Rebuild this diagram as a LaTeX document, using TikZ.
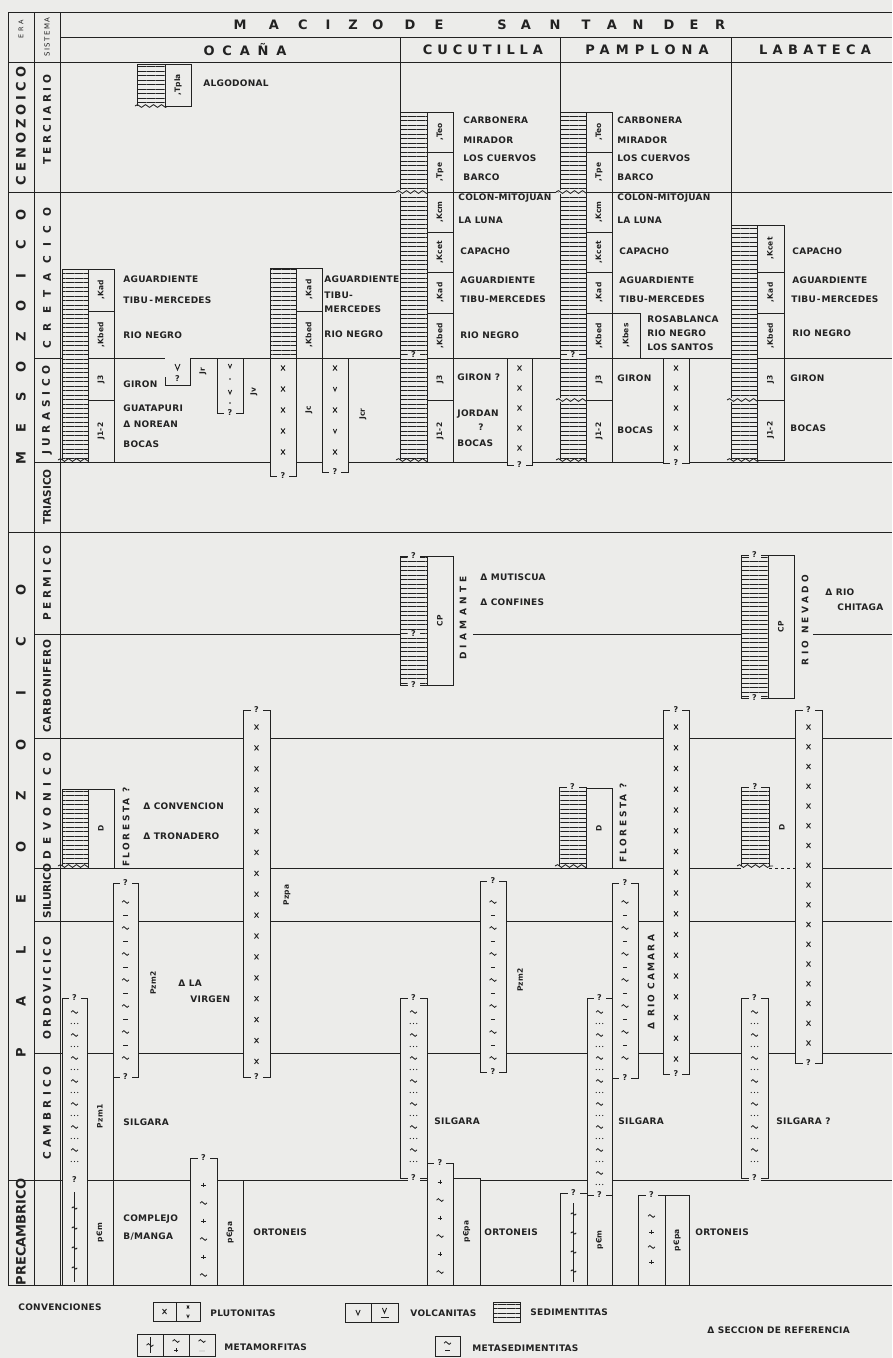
\documentclass[tikz,border=0pt]{standalone}
\usepackage{fontspec}
\setmainfont{DejaVu Sans}
\newfontfamily\fmla[LetterSpace=3]{DejaVu Sans}
\newfontfamily\fhd{DejaVu Sans}
\usetikzlibrary{decorations.pathmorphing,patterns.meta}
\definecolor{papel}{RGB}{236,236,234}
\definecolor{tinta}{RGB}{34,34,34}

\begin{document}
\begin{tikzpicture}[x=1pt, y=-1pt, line width=.85pt, color=tinta,
  fmla/.style={font=\fmla\bfseries\fontsize{9}{10}\selectfont, anchor=west, inner sep=0pt},
  caja/.style={rotate=90, font=\fmla\bfseries\fontsize{7.5}{8}\selectfont, inner sep=0pt},
  nombre/.style={rotate=90, font=\fmla\bfseries\fontsize{9}{10}\selectfont, inner sep=0pt},
  sis/.style={rotate=90, font=\fhd\bfseries\fontsize{10.5}{11}\selectfont, inner sep=0pt},
  era/.style={rotate=90, font=\fhd\bfseries\fontsize{13}{13}\selectfont, inner sep=0pt},
  titulo/.style={font=\fhd\bfseries\fontsize{13}{13}\selectfont, inner sep=0pt},
  duda/.style={font=\fhd\bfseries\fontsize{8}{8}\selectfont, fill=papel, inner sep=.4pt, minimum width=12pt},
  hueco/.style={draw, fill=papel},
  sed/.style={draw, fill=papel, postaction={pattern={Lines[distance=4.5pt, line width=.65pt]}, pattern color=tinta}},
  ola/.style={decorate, decoration={snake, amplitude=1.4pt, segment length=8pt}},
  cruz/.pic={\draw[line width=.9pt] (-2,-2.5) -- (2,2.5) (-2,2.5) -- (2,-2.5);},
  uve/.pic={\draw[line width=.9pt] (-2.1,-2.5) -- (0,2.5) -- (2.1,-2.5);},
  tilde/.pic={\draw[line width=.85pt] (-3.4,.2) sin (-1.7,-1.4) cos (0,0) sin (1.7,1.4) cos (3.4,-.2);},
  raya/.pic={\draw[line width=.85pt] (-2.2,0) -- (2.2,0);},
  puntos/.pic={\fill (-3.2,0) circle (.65) (0,0) circle (.65) (3.2,0) circle (.65);},
  mas/.pic={\draw[line width=.9pt] (-2.3,0) -- (2.3,0) (0,-2.3) -- (0,2.3);},
]
% 底色
\fill[papel] (0,0) rectangle (892,1358);
\useasboundingbox (0,0) rectangle (892,1358);

% 边框与分界线
\draw (8,12) -- (892,12) (60,37) -- (892,37) (8,62) -- (892,62);
\draw (8,12) -- (8,1285) -- (892,1285) (34,12) -- (34,1285) (60,12) -- (60,1285);
\draw (400,37) -- (400,112) (560,37) -- (560,112) (731,37) -- (731,225);
\foreach \yy in {192,532,1180} \draw (8,\yy) -- (892,\yy);
\foreach \yy in {358,462,738,921,1053} \draw (34,\yy) -- (892,\yy);
\draw (34,634) -- (400,634) (473,634) -- (741,634) (813,634) -- (892,634);
\draw (34,868) -- (741,868) (822,868) -- (892,868);
\draw[dashed] (769,868) -- (795,868);

% 标题行
\foreach \l/\xx [count=\k] in {M/240,A/274,C/303,I/328,Z/353,O/378,D/410,E/439,S/502,A/526,N/555,T/586,A/612,N/638,D/669,E/694,R/720}
  \node[titulo] (mz\k) at (\xx,25) {\l};
\node[titulo] (ocana) at (245,50) {\addfontfeature{LetterSpace=60}OCAÑA};
\node[titulo] (cucutilla) at (483,50) {\addfontfeature{LetterSpace=38}CUCUTILLA};
\node[titulo] (pamplona) at (647,50) {\addfontfeature{LetterSpace=47}PAMPLONA};
\node[titulo] (labateca) at (815,50) {\addfontfeature{LetterSpace=41}LABATECA};

% 纪与系
\node[rotate=90, font=\fhd\fontsize{6.5}{7}\selectfont, inner sep=0pt] (erah) at (21,29) {\addfontfeature{LetterSpace=40}ERA};
\node[rotate=90, font=\fhd\fontsize{7}{7}\selectfont, inner sep=0pt] (sish) at (47,37) {\addfontfeature{LetterSpace=20}SISTEMA};
\node[era] (cenozoico) at (21,126) {\addfontfeature{LetterSpace=31}CENOZOICO};
\foreach \l [count=\k from 0] in {M,E,S,O,Z,O,I,C,O}
  \node[era] (meso\k) at (21,{458-30.4*\k}) {\l};
\foreach \l [count=\k from 0] in {P,A,L,E,O,Z,O,I,C,O}
  \node[era] (paleo\k) at (21,{1053-51.4*\k}) {\l};
\node[era] (precambrico) at (21,1232) {PRECAMBRICO};
\foreach \yy/\t/\ls in {120/TERCIARIO/32, 278/CRETACICO/90, 410/JURASICO/45, 497/TRIASICO/0,
    583/PERMICO/33, 686/CARBONIFERO/8, 806/DEVONICO/60, 891/SILURICO/0, 988/ORDOVICICO/30, 1113/CAMBRICO/41}
  \node[sis] (sis\yy) at (47,\yy) {\addfontfeature{LetterSpace=\ls}\t};

% 沉积岩柱
\foreach \xa/\ya/\xb/\yb in {137/64/165/106, 62/269/88/460, 270/268/296/358, 400/112/427/460,
    560/112/586/460, 731/225/757/460, 400/556/427/685, 741/555/768/698,
    62/789/88/866, 559/787/586/866, 741/787/769/866}
  \path[sed] (\xa,\yb) -- (\xa,\ya) -- (\xb,\ya) -- (\xb,\yb);
\draw (400,685) -- (427,685) (741,698) -- (768,698) (270,358) -- (296,358);
\foreach \xa/\xb/\yy in {135/170/106, 58/92/460, 396/431/460, 556/590/460, 727/761/460,
    58/92/866, 555/590/866, 737/773/866}
  \draw[ola] (\xa,\yy) -- (\xb,\yy);
\foreach \xa/\xb/\yy in {396/431/192, 556/590/192, 556/590/400, 727/761/400}
  \draw[ola, preaction={draw=papel, line width=3pt}] (\xa,\yy) -- (\xb,\yy);

% 其他岩柱
\foreach \xa/\ya/\xb/\yb in {217/358/243/413, 270/358/296/476, 322/358/348/472, 507/358/532/465,
    663/358/689/463, 243/710/270/1077, 663/710/689/1074, 795/710/822/1063,
    113/883/138/1077, 480/881/506/1072, 612/883/638/1078,
    62/998/87/1285, 400/998/427/1178, 587/998/612/1195, 741/998/768/1178, 560/1193/587/1285,
    190/1158/217/1285, 427/1163/453/1285, 638/1195/665/1285}
  \draw[hueco] (\xa,\ya) rectangle (\xb,\yb);
\fill[papel] (165,358) rectangle (190,385);
\draw (165,377) -- (165,385) -- (190,385) -- (190,358);

% 代号框
\foreach \xa/\ya/\xb/\yb/\t [count=\i] in {
    165/64/191/106/{,Tpla},
    88/269/114/311/{,Kad}, 88/311/114/358/{,Kbed}, 88/358/114/400/J3, 88/400/114/462/J1-2,
    296/268/322/311/{,Kad}, 296/311/322/358/{,Kbed}, 296/358/322/462/Jc,
    427/112/453/152/{,Teo}, 427/152/453/192/{,Tpe}, 427/192/453/232/{,Kcm}, 427/232/453/272/{,Kcet},
    427/272/453/313/{,Kad}, 427/313/453/358/{,Kbed}, 427/358/453/400/J3, 427/400/453/462/J1-2,
    586/112/612/152/{,Teo}, 586/152/612/192/{,Tpe}, 586/192/612/232/{,Kcm}, 586/232/612/272/{,Kcet},
    586/272/612/313/{,Kad}, 586/313/612/358/{,Kbed}, 586/358/612/400/J3, 586/400/612/462/J1-2,
    612/313/640/358/{,Kbes},
    757/225/784/272/{,Kcet}, 757/272/784/313/{,Kad}, 757/313/784/358/{,Kbed}, 757/358/784/400/J3,
    757/400/784/460/J1-2,
    427/556/453/685/CP, 768/555/794/698/CP, 88/789/114/868/D, 586/788/612/868/D,
    87/1053/113/1180/Pzm1, 87/1180/113/1285/pЄm, 217/1180/243/1285/pЄpa,
    453/1178/480/1285/pЄpa, 587/1195/612/1285/pЄm, 665/1195/689/1285/pЄpa}
{
  \draw[hueco] (\xa,\ya) rectangle (\xb,\yb);
  \node[caja] (caja\i) at ({(\xa+\xb)/2},{(\ya+\yb)/2}) {\t};
}

% 符号
\foreach \yy in {368,389,410,431,452} \pic at (283,\yy) {cruz};
\foreach \yy in {368,410,452} \pic at (335,\yy) {cruz};
\foreach \yy in {389,431} \pic[scale=.8] at (335,\yy) {uve};
\foreach \yy in {368,388,408,428,448} {\pic at (519.5,\yy) {cruz}; \pic at (676,\yy) {cruz};}
\pic[scale=1.2] at (177.5,367) {uve};
\node[font=\fhd\bfseries\fontsize{8}{8}\selectfont, inner sep=0pt] (jrq) at (177.5,379) {?};
\pic[scale=.8] at (230,366) {uve}; \pic[scale=.8] at (230,392) {uve};
\fill (230,379) circle (.9) (230,403) circle (.9);
\foreach \k in {0,...,16} {
  \pic at (256.5,{727+20.9*\k}) {cruz};
  \pic at (676,{727+20.75*\k}) {cruz};
  \pic at (808.5,{727+19.75*\k}) {cruz};
}
\foreach \xc in {125.5,493,625} {
  \foreach \k in {0,...,6} \pic at (\xc,{902+26*\k}) {tilde};
  \foreach \k in {0,...,5} \pic at (\xc,{915+26*\k}) {raya};
}
\foreach \xc/\n in {74.5/6,413.5/6,754.5/6,599.5/7}
  \foreach \k in {0,...,\n} {\pic at (\xc,{1012+23*\k}) {tilde}; \pic at (\xc,{1023.5+23*\k}) {puntos};}
\draw[line width=.8pt] (74.5,1192) -- (74.5,1282) (573.5,1203) -- (573.5,1282);
\foreach \k in {0,...,3} {\pic[scale=.8] at (74.5,{1208+20*\k}) {tilde}; \pic[scale=.8] at (573.5,{1214+19*\k}) {tilde};}
\foreach \xc/\ya in {203.5/1185, 440/1182}
  \foreach \k in {0,1,2} {\pic at (\xc,{\ya+36*\k}) {mas}; \pic at (\xc,{\ya+18+36*\k}) {tilde};}
\foreach \k in {0,1} {\pic at (651.5,{1216+31*\k}) {tilde}; \pic at (651.5,{1232+30*\k}) {mas};}

% 问号
\foreach \xa/\xb/\yy [count=\i] in {217/243/413, 270/296/476, 322/348/472, 507/532/465, 663/689/463,
    243/270/710, 243/270/1077, 663/689/710, 663/689/1074, 795/822/710, 795/822/1063,
    113/138/883, 113/138/1077, 480/506/881, 480/506/1072, 612/638/883, 612/638/1078,
    62/87/998, 400/427/998, 400/427/1178, 587/612/998, 587/612/1195, 741/768/998, 741/768/1178,
    560/587/1193, 190/217/1158, 427/453/1163, 638/665/1195,
    400/427/556, 400/427/685, 741/768/555, 741/768/698, 559/586/787, 741/769/787,
    62/87/1180, 400/427/355, 560/586/355, 400/427/634}
  \node[duda] (duda\i) at ({(\xa+\xb)/2},\yy) {?};

% 竖排名称
\foreach \xx/\yy/\t [count=\i] in {203/371/Jr, 254/392/Jv, 363/414/Jcr, 287/895/Pzpa, 153/983/Pzm2,
    520/980/Pzm2, 782/827/D}
  \node[caja] (cod\i) at (\xx,\yy) {\t};
\foreach \xx/\yy/\t/\ls [count=\i] in {126/827/FLORESTA ?/28, 463/618/DIAMANTE/48, 805/620/RIO NEVADO/38,
    623/823/FLORESTA ?/28, 651/982/Δ RIO CAMARA/24}
  \node[nombre] (nom\i) at (\xx,\yy) {\addfontfeature{LetterSpace=\ls}\t};

% 地层名称
\foreach \xx/\yy/\t [count=\i] in {
    203/83/ALGODONAL,
    123/279/AGUARDIENTE, 123/300/{TIBU\,-\,MERCEDES}, 123/335/RIO NEGRO, 123/384/GIRON,
    123/408/GUATAPURI, 123/424/Δ NOREAN, 123/444/BOCAS,
    324/279/AGUARDIENTE, 324/295/TIBU-, 324/309/MERCEDES, 324/334/RIO NEGRO,
    463/120/CARBONERA, 463/140/MIRADOR, 463/158/LOS CUERVOS, 463/177/BARCO,
    458/198/COLON-MITOJUAN, 458/220/LA LUNA, 460/251/CAPACHO, 460/280/AGUARDIENTE,
    460/299/TIBU-MERCEDES, 460/335/RIO NEGRO, 457/377/GIRON ?, 457/414/JORDAN, 478/427/?, 457/443/BOCAS,
    617/120/CARBONERA, 617/140/MIRADOR, 617/158/LOS CUERVOS, 617/177/BARCO,
    617/198/COLON-MITOJUAN, 617/220/LA LUNA, 619/251/CAPACHO, 619/280/AGUARDIENTE,
    619/299/TIBU-MERCEDES, 647/319/ROSABLANCA, 647/333/RIO NEGRO, 647/347/LOS SANTOS,
    617/378/GIRON, 617/430/BOCAS,
    792/251/CAPACHO, 792/280/AGUARDIENTE, 791/299/{TIBU\kern1pt-\kern1pt MERCEDES}, 792/333/RIO NEGRO,
    790/378/GIRON, 790/428/BOCAS,
    480/577/Δ MUTISCUA, 480/602/Δ CONFINES, 825/592/Δ RIO, 837/607/CHITAGA,
    143/806/Δ CONVENCION, 143/836/Δ TRONADERO, 178/983/Δ LA, 190/999/VIRGEN,
    123/1122/SILGARA, 434/1121/SILGARA, 618/1121/SILGARA, 776/1121/SILGARA ?,
    123/1219/COMPLEJO, 123/1237/{B/MANGA}, 253/1232/ORTONEIS, 484/1232/ORTONEIS, 695/1232/ORTONEIS,
    18/1307/CONVENCIONES, 210/1313/PLUTONITAS, 410/1313/VOLCANITAS, 530/1312/SEDIMENTITAS,
    707/1330/Δ SECCION DE REFERENCIA, 224/1347/METAMORFITAS, 472/1348/METASEDIMENTITAS}
  \node[fmla] (fm\i) at (\xx,\yy) {\t};

% 图例
\draw (153,1302) rectangle (200,1321) (176,1302) -- (176,1321);
\pic at (164.5,1311.5) {cruz};
\pic[scale=.6] at (188,1307) {cruz}; \pic[scale=.6] at (188,1316) {uve};
\draw (345,1303) rectangle (398,1322) (371,1303) -- (371,1322);
\pic at (358,1312.5) {uve}; \pic at (384.5,1310.5) {uve};
\draw (380.5,1317) -- (388.5,1317);
\path[sed] (493,1302) rectangle (520,1322);
\draw (137,1334) rectangle (215,1356) (163,1334) -- (163,1356) (189,1334) -- (189,1356);
\draw[line width=.8pt] (150,1337) -- (150,1353);
\pic at (150,1345) {tilde};
\pic at (176,1341) {tilde}; \pic[scale=.7] at (176,1350) {mas};
\pic at (202,1341) {tilde}; \pic[scale=.6] at (202,1351) {puntos};
\draw (435,1336) rectangle (460,1356);
\pic at (447.5,1343) {tilde}; \pic at (447.5,1350) {raya};
\end{tikzpicture}
\end{document}
